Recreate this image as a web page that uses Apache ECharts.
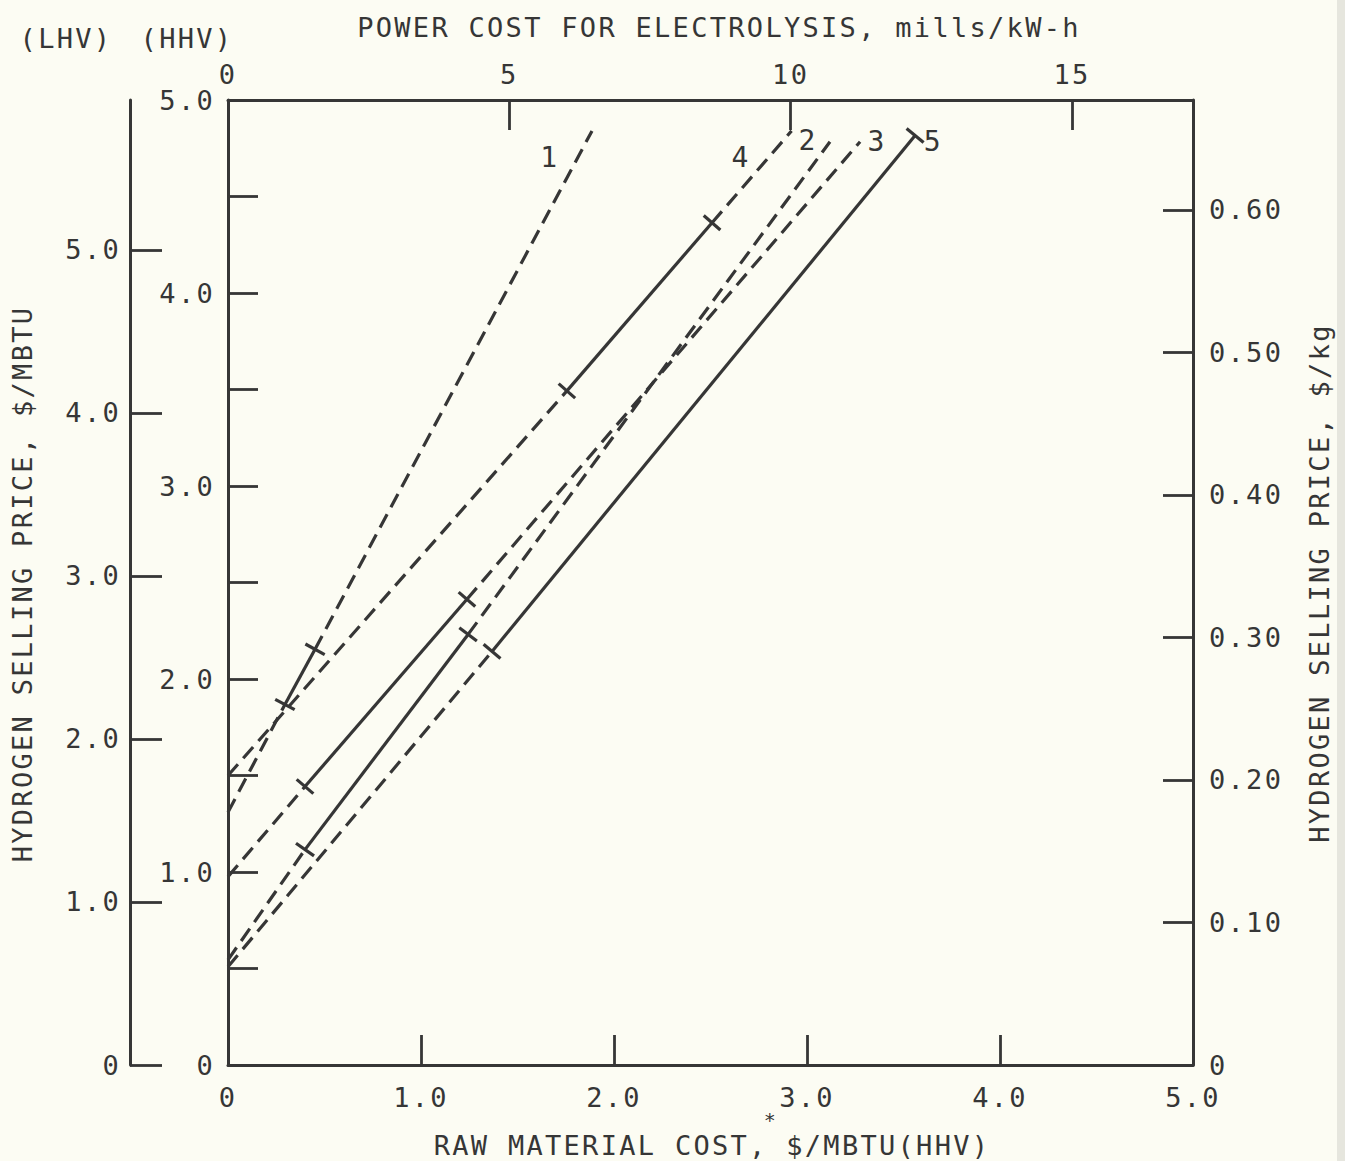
<!DOCTYPE html>
<html>
<head>
<meta charset="utf-8">
<script src="https://cdn.jsdelivr.net/npm/echarts@6/dist/echarts.min.js"></script>
<style>
html, body { margin: 0; padding: 0; background: #fcfcf3; }
#chart { width: 1345px; height: 1161px; }
#chart text { letter-spacing: 2.3px; }
</style>
</head>
<body>
<div id="chart"></div>
<script>
// ---- Data (x: raw material cost $/MBTU HHV, y: H2 price $/MBTU HHV) ----
const line1X = [0, 0.295, 0.451, 1.886];
const line1Y = [1.31, 1.868, 2.154, 4.84];
const line2X = [0, 0.399, 1.238, 3.275];
const line2Y = [0.976, 1.443, 2.413, 4.784];
const line3X = [0, 0.399, 1.244, 3.119];
const line3Y = [0.545, 1.116, 2.231, 4.784];
const line4X = [0, 1.756, 2.508, 2.92];
const line4Y = [1.50, 3.493, 4.364, 4.84];
const line5X = [0, 1.368, 3.56];
const line5Y = [0.509, 2.143, 4.816];

// segment styles between successive points
const line1Seg = ['dash', 'solid', 'dash'];
const line2Seg = ['dash', 'solid', 'dash'];
const line3Seg = ['dash', 'solid', 'dash'];
const line4Seg = ['dash', 'solid', 'dash'];
const line5Seg = ['dash', 'solid'];

// indices of points carrying a cross-bar mark
const line1Marks = [1, 2];
const line2Marks = [1, 2];
const line3Marks = [1, 2];
const line4Marks = [1, 2];
const line5Marks = [1, 2];

// curve number labels (anchored in data units)
const curveLabelText = ['1', '4', '2', '3', '5'];
const curveLabelX = [1.668, 2.658, 3.005, 3.363, 3.655];
const curveLabelY = [4.70, 4.70, 4.79, 4.785, 4.785];

// axes
const costMax = 5.0;
const costTickLabels = ['0', '1.0', '2.0', '3.0', '4.0', '5.0'];
const hhvMax = 5.0;
const hhvTickLabels = ['0', '1.0', '2.0', '3.0', '4.0', '5.0'];
const lhvMax = 5.92;
const lhvTickLabels = ['0', '1.0', '2.0', '3.0', '4.0', '5.0'];
const kgMax = 0.677;
const kgTickLabels = ['0', '0.10', '0.20', '0.30', '0.40', '0.50', '0.60'];
const millsMax = 17.15;
const millsTickLabels = ['0', '5', '10', '15'];

// ---- chart ----
const INK = '#363636';
const FONT = 'DejaVu Sans Mono';
const FS = 27;
const FONT_CSS = FS + 'px "' + FONT + '"';

const chart = echarts.init(document.getElementById('chart'), null, { renderer: 'svg' });

function segSeries(xs, ys, styles) {
  return styles.map((s, i) => ({
    type: 'line', xAxisIndex: 0, yAxisIndex: 0, silent: true, symbol: 'none',
    data: [[xs[i], ys[i]], [xs[i + 1], ys[i + 1]]],
    lineStyle: { color: INK, width: 3.2, type: s === 'solid' ? 'solid' : [15, 8] },
    z: 3
  }));
}
function markItems(xs, ys, idx) {
  return idx.map(i => [xs[i], ys[i], xs[i - 1], ys[i - 1]]);
}
const marks = [].concat(
  markItems(line1X, line1Y, line1Marks),
  markItems(line2X, line2Y, line2Marks),
  markItems(line3X, line3Y, line3Marks),
  markItems(line4X, line4Y, line4Marks),
  markItems(line5X, line5Y, line5Marks)
);

const axisLineStyle = { color: INK, width: 3 };
const tickStyle = { color: INK, width: 2.8 };
const labelStyle = { color: INK, fontFamily: FONT, fontSize: FS };

const series = [].concat(
  segSeries(line1X, line1Y, line1Seg),
  segSeries(line2X, line2Y, line2Seg),
  segSeries(line3X, line3Y, line3Seg),
  segSeries(line4X, line4Y, line4Seg),
  segSeries(line5X, line5Y, line5Seg),
  [{
    type: 'custom', xAxisIndex: 0, yAxisIndex: 0, silent: true, clip: false, z: 4,
    data: marks,
    encode: { x: 0, y: 1 },
    renderItem: function (params, api) {
      const p = api.coord([api.value(0), api.value(1)]);
      const q = api.coord([api.value(2), api.value(3)]);
      let dx = q[0] - p[0], dy = q[1] - p[1];
      const len = Math.hypot(dx, dy) || 1;
      dx /= len; dy /= len;
      const h = 11;
      return {
        type: 'line',
        shape: { x1: p[0] - dy * h, y1: p[1] + dx * h, x2: p[0] + dy * h, y2: p[1] - dx * h },
        style: { stroke: INK, lineWidth: 3.2 }
      };
    }
  }, {
    type: 'custom', xAxisIndex: 0, yAxisIndex: 0, silent: true, clip: false, z: 5,
    data: curveLabelText.map((t, i) => [curveLabelX[i], curveLabelY[i], i]),
    encode: { x: 0, y: 1 },
    renderItem: function (params, api) {
      const p = api.coord([api.value(0), api.value(1)]);
      return {
        type: 'text', x: p[0], y: p[1],
        style: {
          text: curveLabelText[api.value(2)], fill: INK,
          font: '28px "' + FONT + '"', textAlign: 'center', textVerticalAlign: 'middle'
        }
      };
    }
  }]
);

chart.setOption({
  animation: false,
  backgroundColor: '#fcfcf3',
  grid: { left: 228, top: 100, width: 965, height: 965, containLabel: false },
  xAxis: [{
    type: 'value', position: 'bottom', min: 0, max: costMax, interval: 1,
    axisLine: { show: true, onZero: false, lineStyle: axisLineStyle },
    axisTick: { show: true, inside: true, length: 30, lineStyle: tickStyle },
    axisLabel: Object.assign({ margin: 19, formatter: v => costTickLabels[Math.round(v)] }, labelStyle),
    splitLine: { show: false }
  }, {
    type: 'value', position: 'top', min: 0, max: millsMax, interval: 5,
    axisLine: { show: true, onZero: false, lineStyle: axisLineStyle },
    axisTick: { show: true, inside: true, length: 30, lineStyle: tickStyle },
    axisLabel: Object.assign({ margin: 12, showMaxLabel: false, formatter: v => millsTickLabels[Math.round(v / 5)] || '' }, labelStyle),
    splitLine: { show: false }
  }],
  yAxis: [{
    type: 'value', position: 'left', min: 0, max: hhvMax, interval: 0.5,
    axisLine: { show: true, onZero: false, lineStyle: axisLineStyle },
    axisTick: { show: true, inside: true, length: 30, lineStyle: tickStyle },
    axisLabel: Object.assign({
      margin: 13,
      formatter: v => Math.abs(v - Math.round(v)) < 1e-6 ? hhvTickLabels[Math.round(v)] : ''
    }, labelStyle),
    splitLine: { show: false }
  }, {
    type: 'value', position: 'left', offset: 98, min: 0, max: lhvMax, interval: 1,
    axisLine: { show: true, onZero: false, lineStyle: axisLineStyle },
    axisTick: { show: true, inside: true, length: 32, lineStyle: tickStyle },
    axisLabel: Object.assign({ margin: 9, showMaxLabel: false, formatter: v => lhvTickLabels[Math.round(v)] || '' }, labelStyle),
    splitLine: { show: false }
  }, {
    type: 'value', position: 'right', min: 0, max: kgMax, interval: 0.1,
    axisLine: { show: true, onZero: false, lineStyle: axisLineStyle },
    axisTick: { show: true, inside: true, length: 30, lineStyle: tickStyle },
    axisLabel: Object.assign({ margin: 16, showMaxLabel: false, formatter: v => kgTickLabels[Math.round(v * 10)] || '' }, labelStyle),
    splitLine: { show: false }
  }],
  graphic: [
    { type: 'rect', left: 1337, top: 0, silent: true, shape: { width: 8, height: 1161 }, style: { fill: '#e6e6de' } },
    { type: 'text', x: 719, y: 27, silent: true, style: { text: 'POWER COST FOR ELECTROLYSIS, mills/kW-h', fill: INK, font: FONT_CSS, textAlign: 'center', textVerticalAlign: 'middle' } },
    { type: 'text', x: 66, y: 38, silent: true, style: { text: '(LHV)', fill: INK, font: FONT_CSS, textAlign: 'center', textVerticalAlign: 'middle' } },
    { type: 'text', x: 187, y: 38, silent: true, style: { text: '(HHV)', fill: INK, font: FONT_CSS, textAlign: 'center', textVerticalAlign: 'middle' } },
    { type: 'text', x: 712, y: 1145, silent: true, style: { text: 'RAW MATERIAL COST, $/MBTU(HHV)', fill: INK, font: FONT_CSS, textAlign: 'center', textVerticalAlign: 'middle' } },
    { type: 'text', x: 771, y: 1120, silent: true, style: { text: '*', fill: INK, font: '20px "' + FONT + '"', textAlign: 'center', textVerticalAlign: 'middle' } },
    { type: 'text', x: 22, y: 584, rotation: Math.PI / 2, silent: true, style: { text: 'HYDROGEN SELLING PRICE, $/MBTU', fill: INK, font: FONT_CSS, textAlign: 'center', textVerticalAlign: 'middle' } },
    { type: 'text', x: 1319, y: 583, rotation: Math.PI / 2, silent: true, style: { text: 'HYDROGEN SELLING PRICE, $/kg', fill: INK, font: FONT_CSS, textAlign: 'center', textVerticalAlign: 'middle' } }
  ],
  series: series
});
</script>
</body>
</html>
